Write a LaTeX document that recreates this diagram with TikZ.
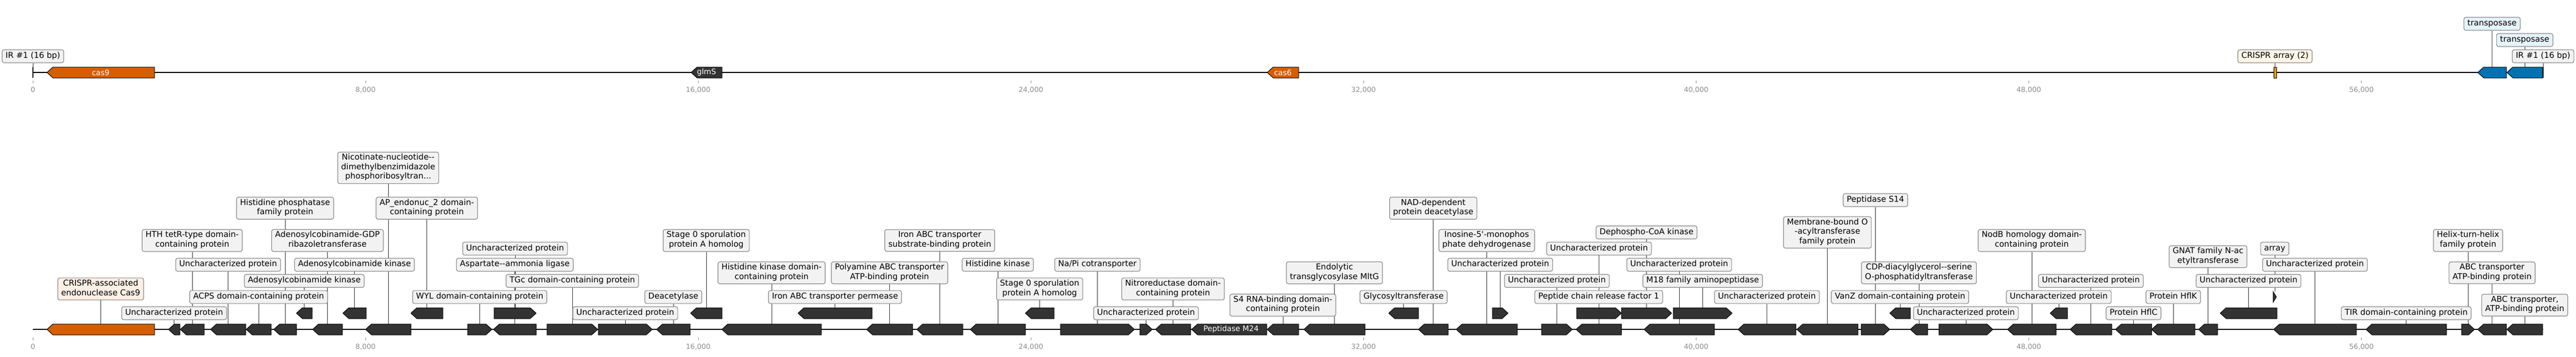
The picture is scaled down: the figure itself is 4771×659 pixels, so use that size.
\documentclass[tikz,border=0pt]{standalone}
\usepackage{fontspec}
\setmainfont{DejaVu Sans}
\usepackage{xcolor}
\usepackage{tikz}
\definecolor{gdark}{HTML}{333333}
\definecolor{verm}{HTML}{D55E00}
\definecolor{tblue}{HTML}{0072B2}
\definecolor{cryel}{HTML}{E69F00}
\definecolor{labfill}{HTML}{F2F2F2}
\definecolor{labedge}{HTML}{8A8A8A}
\definecolor{vermlight}{HTML}{FDEFE5}
\definecolor{bluelight}{HTML}{E5F3FA}
\definecolor{yellight}{HTML}{FDF5E5}
\definecolor{axisgray}{HTML}{8C8C8C}
\pgfdeclarelayer{paper}
\pgfdeclarelayer{back}
\pgfsetlayers{paper,back,main}
\tikzset{gene/.style = {draw=black, line width=1pt, line join=miter}}
\tikzset{conn/.style = {draw=black!80, line width=0.9pt}}

\newcommand{\genel}[5][gdark]{%
  \pgfmathsetmacro{\hd}{min(11,#4-#3)}%
  \draw[gene,fill=#1] (#4,#5-10) -- ({#3+\hd},#5-10) -- (#3,#5) -- ({#3+\hd},#5+10) -- (#4,#5+10) -- cycle;%
  \coordinate (#2) at ({(#3+#4)/2},#5-10);}
\newcommand{\gener}[5][gdark]{%
  \pgfmathsetmacro{\hd}{min(11,#4-#3)}%
  \draw[gene,fill=#1] (#3,#5-10) -- ({#4-\hd},#5-10) -- (#4,#5) -- ({#4-\hd},#5+10) -- (#3,#5+10) -- cycle;%
  \coordinate (#2) at ({(#3+#4)/2},#5-10);}

\begin{document}
\begin{tikzpicture}[x=1pt,y=-1pt,
    lab/.style={draw=labedge, fill=labfill, line width=1.2pt, rounded corners=3.5pt, align=center,
      font=\fontsize{15}{17.5}\selectfont, inner xsep=6.5pt, inner ysep=3.25pt,
      execute at begin node=\strut, execute at end node=\strut},
    labcas/.style={lab, fill=vermlight},
    labblue/.style={lab, fill=bluelight},
    labyel/.style={lab, fill=yellight},
    intext/.style={text=white, font=\fontsize{14}{16}\selectfont, inner sep=0pt},
    ticklab/.style={text=axisgray, font=\fontsize{13}{15}\selectfont, inner sep=0pt}]
  \useasboundingbox (0,0) rectangle (4771,659);
  \begin{pgfonlayer}{paper}
    \fill[white] (0,0) rectangle (4771,659);
  \end{pgfonlayer}

  \coordinate (a0) at (61,134);
  \coordinate (a1) at (4710,134);
  \coordinate (b0) at (61,609);
  \coordinate (b1) at (4710,609);
  \coordinate (ir1) at (61,124);
  \coordinate (ir2) at (4710,124);
  \draw[line width=1.5pt] (ir1) -- (61,144);
  \draw[line width=1.5pt] (ir2) -- (4710,144);

  \foreach \k/\txt in {0/0,1/{8,000},2/{16,000},3/{24,000},4/{32,000},5/{40,000},6/{48,000},7/{56,000}}{
    \draw[axisgray, line width=0.8pt] ({61+616.1*\k},149) -- ({61+616.1*\k},154);
    \draw[axisgray, line width=0.8pt] ({61+616.1*\k},624) -- ({61+616.1*\k},629);
    \node[ticklab] (tu\k) at ({61+616.1*\k},166) {\txt};
    \node[ticklab] (tl\k) at ({61+616.1*\k},641) {\txt};
  }

  \genel[verm]{c1}{87}{286}{134}
  \genel{c2}{1280}{1337}{134}
  \genel[verm]{c3}{2347}{2405}{134}
  \draw[gene, fill=cryel] (4211,124) rectangle (4216,144);
  \coordinate (c4) at (4213.5,124);
  \genel[tblue]{c5}{4589}{4642}{134}
  \genel[tblue]{c6}{4643}{4709}{134}
  \node[intext] (n1) at (186.5,134) {cas9};
  \node[intext] (n2) at (1308.5,134) {glmS};
  \node[intext] (n3) at (2376,134) {cas6};

  \node[lab] (k1) at (ir1 |- 0,104) {IR \#1 (16 bp)};
  \node[labyel] (k2) at (c4 |- 0,104) {CRISPR array (2)};
  \node[labblue] (k3) at (c5 |- 0,44) {transposase};
  \node[labblue] (k4) at (c6 |- 0,74) {transposase};
  \node[lab] (k5) at (ir2 |- 0,104) {IR \#1 (16 bp)};

  \genel[verm]{g1}{87}{286}{609}
  \genel{g2}{312}{333}{609}
  \genel{g3}{334}{378}{609}
  \genel{g4}{390}{455}{609}
  \genel{g5}{456}{502}{609}
  \genel{g6}{507}{549}{609}
  \genel{g7}{579}{634}{609}
  \genel{g8}{677}{761}{609}
  \gener{g9}{866}{911}{609}
  \genel{g10}{914}{993}{609}
  \gener{g11}{1013}{1107}{609}
  \gener{g12}{1108}{1208}{609}
  \genel{g13}{1216}{1278}{609}
  \genel{g14}{1337}{1521}{609}
  \genel{g15}{1605}{1690}{609}
  \genel{g16}{1698}{1783}{609}
  \genel{g17}{1797}{1899}{609}
  \gener{g18}{1964}{2101}{609}
  \gener{g19}{2111}{2134}{609}
  \genel{g20}{2140}{2205}{609}
  \genel{g21}{2207}{2346}{609}
  \genel{g22}{2347}{2405}{609}
  \genel{g23}{2415}{2528}{609}
  \genel{g24}{2627}{2682}{609}
  \genel{g25}{2697}{2810}{609}
  \gener{g26}{2855}{2912}{609}
  \genel{g27}{2919}{3003}{609}
  \genel{g28}{3045}{3175}{609}
  \genel{g29}{3219}{3326}{609}
  \genel{g30}{3328}{3441}{609}
  \gener{g31}{3447}{3500}{609}
  \genel{g32}{3538}{3570}{609}
  \gener{g33}{3591}{3691}{609}
  \genel{g34}{3718}{3808}{609}
  \genel{g35}{3834}{3911}{609}
  \genel{g36}{3918}{3985}{609}
  \genel{g37}{3985}{4065}{609}
  \genel{g38}{4072}{4107}{609}
  \genel{g39}{4211}{4364}{609}
  \genel{g40}{4382}{4531}{609}
  \gener{g41}{4559}{4583}{609}
  \genel{g42}{4589}{4642}{609}
  \genel{g43}{4643}{4709}{609}
  \node[intext] (n4) at (2280,609) {Peptidase M24};

  \genel{h1}{549}{578}{579}
  \genel{h2}{635}{678}{579}
  \genel{h3}{761}{820}{579}
  \gener{h4}{915}{993}{579}
  \genel{h5}{1279}{1337}{579}
  \genel{h6}{1478}{1615}{579}
  \genel{h7}{1899}{1952}{579}
  \genel{h8}{2572}{2627}{579}
  \gener{h9}{2764}{2793}{579}
  \gener{h10}{2920}{3003}{579}
  \gener{h11}{3003}{3096}{579}
  \gener{h12}{3099}{3208}{579}
  \genel{h13}{3500}{3538}{579}
  \genel{h14}{3797}{3829}{579}
  \genel{h15}{4112}{4217}{579}
  \gener{h16}{4210}{4216}{549}

  \node[labcas] (l1) at (g1 |- 0,534.2) {CRISPR-associated\\endonuclease Cas9};
  \node[lab] (l2) at (g2 |- 0,579) {Uncharacterized protein};
  \node[lab] (l3) at (g3 |- 0,444.6) {HTH tetR-type domain-\\containing protein};
  \node[lab] (l4) at (g4 |- 0,489.4) {Uncharacterized protein};
  \node[lab] (l5) at (g5 |- 0,549.1) {ACPS domain-containing protein};
  \node[lab] (l6) at (g6 |- 0,384.9) {Histidine phosphatase\\family protein};
  \node[lab] (l7) at (g7 |- 0,444.6) {Adenosylcobinamide-GDP\\ribazoletransferase};
  \node[lab] (l8) at (g8 |- 0,310.3) {Nicotinate-nucleotide-{}-\\dimethylbenzimidazole\\phosphoribosyltran...};
  \node[lab] (l9) at (g9 |- 0,549.1) {WYL domain-containing protein};
  \node[lab] (l10) at (g10 |- 0,489.4) {Aspartate-{}-ammonia ligase};
  \node[lab] (l11) at (g11 |- 0,519.3) {TGc domain-containing protein};
  \node[lab] (l12) at (g12 |- 0,579) {Uncharacterized protein};
  \node[lab] (l13) at (g13 |- 0,549.1) {Deacetylase};
  \node[lab] (l14) at (g14 |- 0,504.4) {Histidine kinase domain-\\containing protein};
  \node[lab] (l15) at (g15 |- 0,504.4) {Polyamine ABC transporter\\ATP-binding protein};
  \node[lab] (l16) at (g16 |- 0,444.6) {Iron ABC transporter\\substrate-binding protein};
  \node[lab] (l17) at (g17 |- 0,489.4) {Histidine kinase};
  \node[lab] (l18) at (g18 |- 0,489.4) {Na/Pi cotransporter};
  \node[lab] (l19) at (g19 |- 0,579) {Uncharacterized protein};
  \node[lab] (l20) at (g20 |- 0,534.2) {Nitroreductase domain-\\containing protein};
  \node[lab] (l22) at (g22 |- 0,564.1) {S4 RNA-binding domain-\\containing protein};
  \node[lab] (l23) at (g23 |- 0,504.4) {Endolytic\\transglycosylase MltG};
  \node[lab] (l24) at (g24 |- 0,384.9) {NAD-dependent\\protein deacetylase};
  \node[lab] (l25) at (g25 |- 0,444.6) {Inosine-5\textquotesingle-monophos\\phate dehydrogenase};
  \node[lab] (l26) at (g26 |- 0,519.3) {Uncharacterized protein};
  \node[lab] (l27) at (g27 |- 0,549.1) {Peptide chain release factor 1};
  \node[lab] (l28) at (g28 |- 0,489.4) {Uncharacterized protein};
  \node[lab] (l29) at (g29 |- 0,549.1) {Uncharacterized protein};
  \node[lab] (l30) at (g30 |- 0,429.7) {Membrane-bound O\\-acyltransferase\\family protein};
  \node[lab] (l31) at (g31 |- 0,370) {Peptidase S14};
  \node[lab] (l32) at (g32 |- 0,504.4) {CDP-diacylglycerol-{}-serine\\O-phosphatidyltransferase};
  \node[lab] (l33) at (g33 |- 0,579) {Uncharacterized protein};
  \node[lab] (l34) at (g34 |- 0,444.6) {NodB homology domain-\\containing protein};
  \node[lab] (l35) at (g35 |- 0,519.3) {Uncharacterized protein};
  \node[lab] (l36) at (g36 |- 0,579) {Protein HflC};
  \node[lab] (l37) at (g37 |- 0,549.1) {Protein HflK};
  \node[lab] (l38) at (g38 |- 0,474.5) {GNAT family N-ac\\etyltransferase};
  \node[lab] (l39) at (g39 |- 0,489.4) {Uncharacterized protein};
  \node[lab] (l40) at (g40 |- 0,579) {TIR domain-containing protein};
  \node[lab] (l41) at (g41 |- 0,444.6) {Helix-turn-helix\\family protein};
  \node[lab] (l42) at (g42 |- 0,504.4) {ABC transporter\\ATP-binding protein};
  \node[lab] (l43) at (g43 |- 0,564.1) {ABC transporter,\\ATP-binding protein};

  \node[lab] (m1) at (h1 |- 0,519.3) {Adenosylcobinamide kinase};
  \node[lab] (m2) at (h2 |- 0,489.4) {Adenosylcobinamide kinase};
  \node[lab] (m3) at (h3 |- 0,384.9) {AP\_endonuc\_2 domain-\\containing protein};
  \node[lab] (m4) at (h4 |- 0,459.6) {Uncharacterized protein};
  \node[lab] (m5) at (h5 |- 0,444.6) {Stage 0 sporulation\\protein A homolog};
  \node[lab] (m6) at (h6 |- 0,549.1) {Iron ABC transporter permease};
  \node[lab] (m7) at (h7 |- 0,534.2) {Stage 0 sporulation\\protein A homolog};
  \node[lab] (m8) at (h8 |- 0,549.1) {Glycosyltransferase};
  \node[lab] (m9) at (h9 |- 0,489.4) {Uncharacterized protein};
  \node[lab] (m10) at (h10 |- 0,459.6) {Uncharacterized protein};
  \node[lab] (m11) at (h11 |- 0,429.7) {Dephospho-CoA kinase};
  \node[lab] (m12) at (h12 |- 0,519.3) {M18 family aminopeptidase};
  \node[lab] (m13) at (h13 |- 0,549.1) {VanZ domain-containing protein};
  \node[lab] (m14) at (h14 |- 0,549.1) {Uncharacterized protein};
  \node[lab] (m15) at (h15 |- 0,519.3) {Uncharacterized protein};
  \node[lab] (m16) at (h16 |- 0,459.6) {array};

  \begin{pgfonlayer}{back}
    \draw[line width=2pt] (a0) -- (a1);
    \draw[line width=2pt] (b0) -- (b1);
    \draw[conn] (ir1) -- (k1);
    \draw[conn] (c4) -- (k2);
    \draw[conn] (c5) -- (k3);
    \draw[conn] (c6) -- (k4);
    \draw[conn] (ir2) -- (k5);
    \foreach \i in {1,...,20,22,23,...,43} {\draw[conn] (g\i) -- (l\i);}
    \foreach \i in {1,...,16} {\draw[conn] (h\i) -- (m\i);}
  \end{pgfonlayer}
\end{tikzpicture}
\end{document}
